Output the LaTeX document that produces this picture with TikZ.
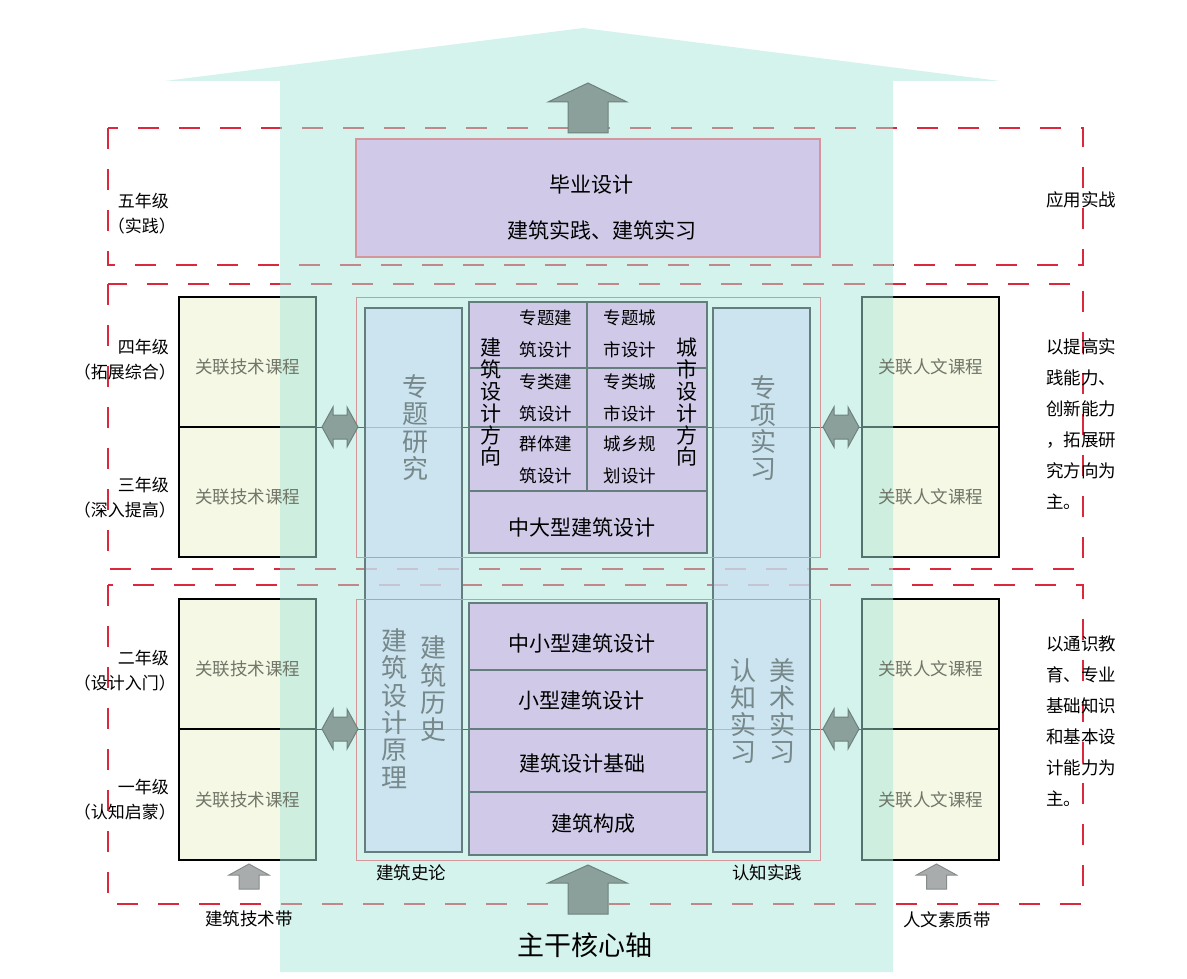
\documentclass[tikz,border=0pt]{standalone}
\usepackage{fontspec}
\setmainfont{Noto Sans CJK SC}
\usepackage{tikz}
\usepackage{xcolor}
\definecolor{redd}{RGB}{220,40,60}
\definecolor{greenf}{RGB}{244,248,228}
\definecolor{bandc}{RGB}{169,231,219}
\definecolor{pinkl}{RGB}{212,150,155}
\definecolor{gridl}{RGB}{100,125,125}
\definecolor{purf}{RGB}{208,202,232}
\definecolor{bluef}{RGB}{200,222,241}
\definecolor{greyt}{RGB}{112,118,104}
\definecolor{colt}{RGB}{118,136,138}
\definecolor{arrowf}{RGB}{140,160,155}
\definecolor{arrowd}{RGB}{110,130,125}
\definecolor{sarrowf}{RGB}{168,172,172}
\definecolor{sarrowd}{RGB}{135,140,140}

\begin{document}
\begin{tikzpicture}[x=1pt,y=-1pt,
  dashbox/.style={draw=redd, line width=1.3pt, dash pattern=on 21pt off 20pt},
  greenbox/.style={draw=black, fill=greenf, line width=1.2pt, inner sep=0pt},
  frame/.style={draw=pinkl, line width=1pt},
  purplebox/.style={draw=gridl, fill=purf, line width=1.2pt, inner sep=0pt},
  bluecol/.style={draw=gridl, fill=bluef, fill opacity=0.7, line width=1.2pt, inner sep=0pt},
  gridline/.style={draw=gridl, line width=1.2pt},
  lbl/.style={font=\fontsize{17}{25}\selectfont, align=right, anchor=east, inner sep=0pt},
  note/.style={font=\fontsize{17.5}{31}\selectfont, align=left, anchor=west, inner sep=0pt},
  coursetxt/.style={text=greyt, font=\fontsize{17.5}{20}\selectfont, yshift=-5pt},
  celltxt/.style={font=\fontsize{17.5}{32}\selectfont, align=center, inner sep=0pt},
  vtxt/.style={font=\fontsize{21}{21.8}\selectfont, align=center, inner sep=0pt},
  coltxt/.style={text=colt, font=\fontsize{26}{27.3}\selectfont, align=center, inner sep=0pt},
  midtxt/.style={font=\fontsize{21}{24}\selectfont, inner sep=0pt},
  smalltxt/.style={font=\fontsize{17.5}{20}\selectfont, inner sep=0pt},
  bigarrow/.style={fill=arrowf, draw=arrowd, line width=1pt},
  smallarrow/.style={fill=sarrowf, draw=sarrowd, line width=1pt}]
  \useasboundingbox (0,0) rectangle (1187,979);

  \draw[dashbox] (108,128) rectangle (1083,265);
  \draw[dashbox] (108,284) rectangle (1083,569);
  \draw[dashbox] (108,585) rectangle (1083,904);

  \node[greenbox, minimum width=137pt, minimum height=130pt] (tech4) at (247.5,362) {};
  \node[greenbox, minimum width=137pt, minimum height=130pt] (tech3) at (247.5,492) {};
  \node[greenbox, minimum width=137pt, minimum height=130pt] (tech2) at (247.5,664) {};
  \node[greenbox, minimum width=137pt, minimum height=131pt] (tech1) at (247.5,794.5) {};
  \node[greenbox, minimum width=137pt, minimum height=130pt] (hum4) at (930.5,362) {};
  \node[greenbox, minimum width=137pt, minimum height=130pt] (hum3) at (930.5,492) {};
  \node[greenbox, minimum width=137pt, minimum height=130pt] (hum2) at (930.5,664) {};
  \node[greenbox, minimum width=137pt, minimum height=131pt] (hum1) at (930.5,794.5) {};
  \draw[line width=1.2pt] (tech4.south west) -- (hum4.south east);
  \draw[line width=1.2pt] (tech2.south west) -- (hum2.south east);

  \fill[bandc, fill opacity=0.5] (165,81) -- (583,28) -- (1000,81) -- (893,81)
    -- (893,972) -- (280,972) -- (280,81) -- cycle;

  \node[bluecol, minimum width=97pt, minimum height=544pt] (hist) at (413.5,580) {};
  \node[bluecol, minimum width=97pt, minimum height=544pt] (prac) at (761.5,580) {};
  \node[frame, minimum width=464pt, minimum height=260pt] (upper) at (588,427) {};
  \node[frame, minimum width=464pt, minimum height=261pt] (lower) at (588,729.5) {};

  \node[purplebox, draw=pinkl, minimum width=464pt, minimum height=118pt] (grad) at (588,198) {};
  \node[midtxt] (gradA) at (591,185) {毕业设计};
  \node[midtxt] (gradB) at (602,230) {建筑实践、建筑实习};

  \node[purplebox, minimum width=238pt, minimum height=251pt] (grid) at (588,427.5) {};
  \draw[gridline] (grid.west |- 0,368) -- (grid.east |- 0,368);
  \draw[gridline] (grid.west |- 0,427) -- (grid.east |- 0,427);
  \draw[gridline] (grid.west |- 0,491) -- (grid.east |- 0,491);
  \draw[gridline] (587,0 |- grid.north) -- (587,491);
  \node[celltxt] (arch1) at (546,334) {专题建\\筑设计};
  \node[celltxt] (arch2) at (546,397.5) {专类建\\筑设计};
  \node[celltxt] (arch3) at (546,459.5) {群体建\\筑设计};
  \node[celltxt] (city1) at (630,334) {专题城\\市设计};
  \node[celltxt] (city2) at (630,397.5) {专类城\\市设计};
  \node[celltxt] (city3) at (630,459.5) {城乡规\\划设计};
  \node[vtxt] (archdir) at (491,402.5) {建\\筑\\设\\计\\方\\向};
  \node[vtxt] (citydir) at (687,402.5) {城\\市\\设\\计\\方\\向};
  \node[midtxt] (large) at (582,527) {中大型建筑设计};

  \node[purplebox, minimum width=238pt, minimum height=252pt] (stack) at (588,729) {};
  \draw[gridline] (stack.west |- 0,670) -- (stack.east |- 0,670);
  \draw[gridline] (stack.west |- 0,729) -- (stack.east |- 0,729);
  \draw[gridline] (stack.west |- 0,792) -- (stack.east |- 0,792);
  \node[midtxt] (medium) at (582,643) {中小型建筑设计};
  \node[midtxt] (small) at (581,700) {小型建筑设计};
  \node[midtxt] (basics) at (582,763) {建筑设计基础};
  \node[midtxt] (form) at (593,824) {建筑构成};

  \node[coltxt] (topic) at (415,427.5) {专\\题\\研\\究};
  \node[coltxt] (special) at (763,428) {专\\项\\实\\习};
  \node[coltxt] (theory) at (394,708.5) {建\\筑\\设\\计\\原\\理};
  \node[coltxt] (history) at (433,689) {建\\筑\\历\\史};
  \node[coltxt] (cogn) at (743,711) {认\\知\\实\\习};
  \node[coltxt] (art) at (782,711) {美\\术\\实\\习};

  \node[coursetxt] at (tech4.center) {关联技术课程};
  \node[coursetxt] at (tech3.center) {关联技术课程};
  \node[coursetxt] at (tech2.center) {关联技术课程};
  \node[coursetxt] at (tech1.center) {关联技术课程};
  \node[coursetxt] at (hum4.center) {关联人文课程};
  \node[coursetxt] at (hum3.center) {关联人文课程};
  \node[coursetxt] at (hum2.center) {关联人文课程};
  \node[coursetxt] at (hum1.center) {关联人文课程};

  \node[lbl] (year5) at (169,214) {五年级\\（实践）\hspace*{-7pt}};
  \node[lbl] (year4) at (169,360) {四年级\\（拓展综合）\hspace*{-7pt}};
  \node[lbl] (year3) at (169,498) {三年级\\（深入提高）\hspace*{-7pt}};
  \node[lbl] (year2) at (169,670.5) {二年级\\（设计入门）\hspace*{-7pt}};
  \node[lbl] (year1) at (169,799.5) {一年级\\（认知启蒙）\hspace*{-7pt}};

  \node[smalltxt, anchor=west] (apply) at (1046,200) {应用实战};
  \node[note] (aim34) at (1046,424.5) {以提高实\\践能力、\\创新能力\\，拓展研\\究方向为\\主。};
  \node[note] (aim12) at (1046,721) {以通识教\\育、专业\\基础知识\\和基本设\\计能力为\\主。};

  \node[smalltxt] (histlab) at (411,873) {建筑史论};
  \node[smalltxt] (praclab) at (767,873) {认知实践};
  \node[smalltxt] (techband) at (249,919) {建筑技术带};
  \node[smalltxt] (humband) at (947,920) {人文素质带};
  \node[font=\fontsize{27}{30}\selectfont, inner sep=0pt] (axis) at (585,945) {主干核心轴};

  \draw[bigarrow] (588,83) -- (627,102) -- (608,102) -- (608,133) -- (568,133)
    -- (568,102) -- (548,102) -- cycle;
  \draw[bigarrow] (588,865) -- (627,883) -- (608,883) -- (608,914) -- (568,914)
    -- (568,883) -- (548,883) -- cycle;
  \draw[smallarrow] (249,864) -- (269,875) -- (259,875) -- (259,889) -- (239,889)
    -- (239,875) -- (229,875) -- cycle;
  \draw[smallarrow] (936.5,864) -- (956.5,875) -- (946.5,875) -- (946.5,889)
    -- (926.5,889) -- (926.5,875) -- (916.5,875) -- cycle;
  \foreach \cx/\cy in {340/427, 340/729, 841/427, 841/729}
    \draw[bigarrow] (\cx-18,\cy) -- (\cx-7,\cy-20) -- (\cx-7,\cy-12) -- (\cx+7,\cy-12)
      -- (\cx+7,\cy-20) -- (\cx+18,\cy) -- (\cx+7,\cy+20) -- (\cx+7,\cy+12)
      -- (\cx-7,\cy+12) -- (\cx-7,\cy+20) -- cycle;
\end{tikzpicture}
\end{document}
